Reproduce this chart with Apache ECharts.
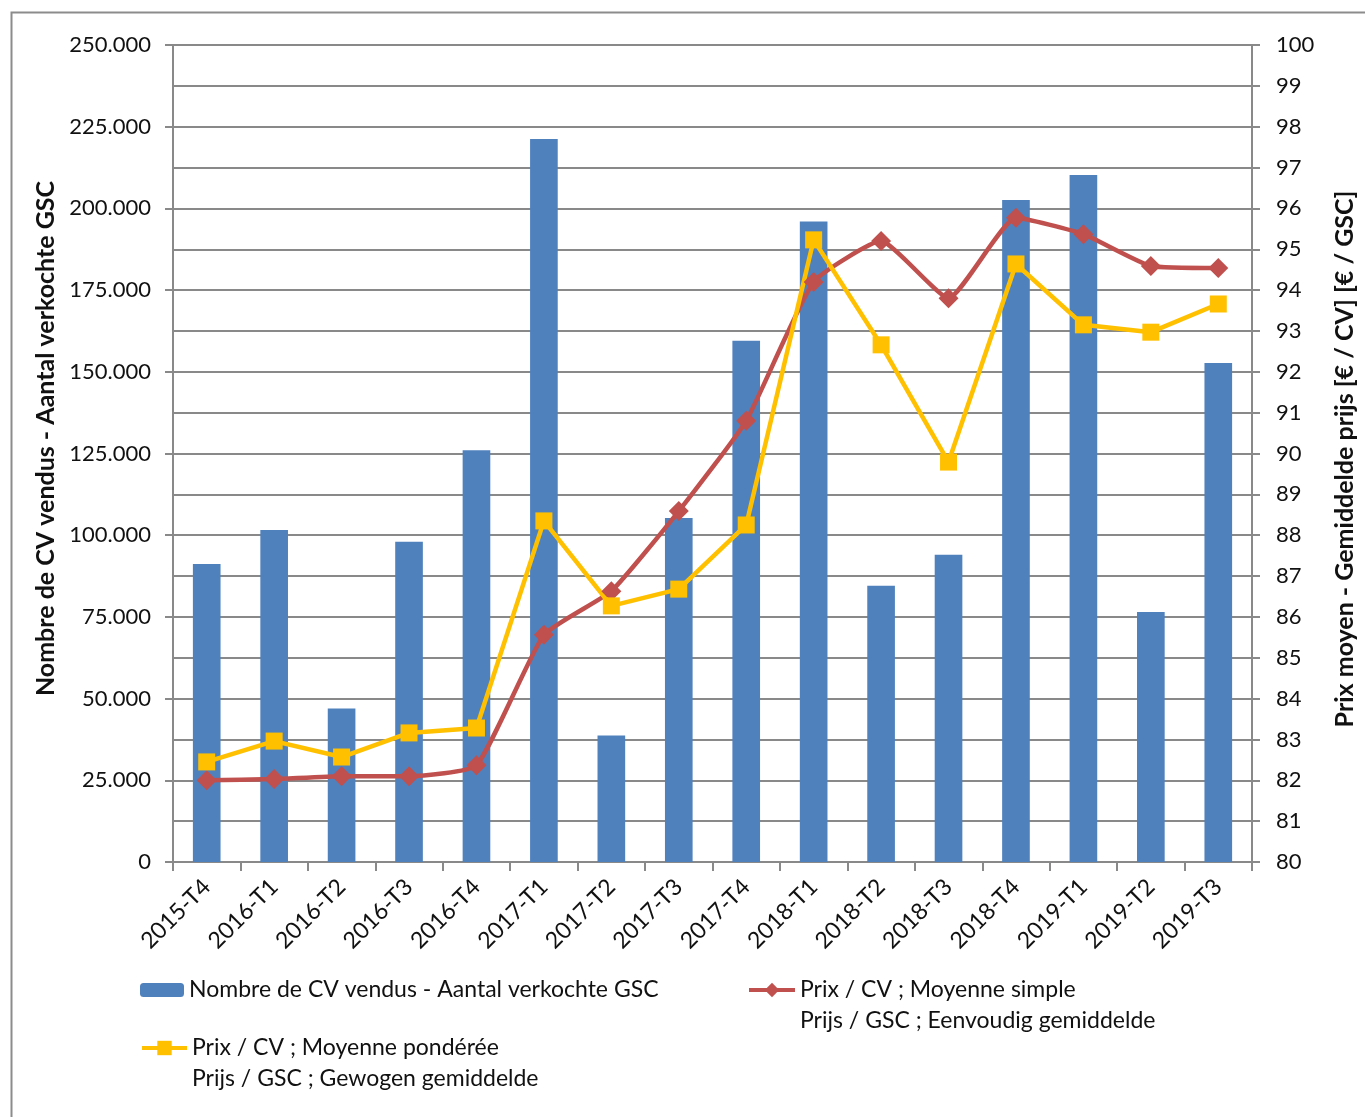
<!DOCTYPE html>
<html>
<head>
<meta charset="utf-8">
<script src="https://cdn.jsdelivr.net/npm/echarts@6/dist/echarts.min.js"></script>
<style>
html,body{margin:0;padding:0;background:#fff;}
#c{width:1365px;height:1117px;}
</style>
</head>
<body>
<div id="c"></div>
<script>
const categories = ['2015-T4','2016-T1','2016-T2','2016-T3','2016-T4','2017-T1','2017-T2','2017-T3','2017-T4','2018-T1','2018-T2','2018-T3','2018-T4','2019-T1','2019-T2','2019-T3'];
const soldCount = [91200,101600,47000,98000,126000,221200,38700,105300,159500,196000,84500,94000,202600,210200,76500,152700];
const simpleAvg = [82.0,82.03,82.1,82.1,82.37,85.56,86.63,88.59,90.8,94.2,95.2,93.8,95.77,95.37,94.59,94.54];
const weightedAvg = [82.45,82.96,82.57,83.16,83.28,88.35,86.27,86.68,88.25,95.23,92.66,89.79,94.64,93.15,92.97,93.66];

const nameBar = 'Nombre de CV vendus - Aantal verkochte GSC';
const nameSimple = 'Prix / CV ; Moyenne simple\nPrijs / GSC ; Eenvoudig gemiddelde';
const nameWeighted = 'Prix / CV ; Moyenne pondérée\nPrijs / GSC ; Gewogen gemiddelde';

const FONT = 'Lato';
const gray = '#898989';
const TXT = '#111111';
const LH = 31;

function fmtThousands(v){
  return String(Math.round(v)).replace(/\B(?=(\d{3})+(?!\d))/g, '.');
}

const chart = echarts.init(document.getElementById('c'));
const legendText = {fontFamily: FONT, fontSize: 23, color: TXT, lineHeight: LH};
const twoLine = function(n){ return '\n' + n; };
chart.setOption({
  animation: false,
  textStyle: {fontFamily: FONT},
  graphic: [{
    type: 'rect', left: 9, top: 10, shape: {width: 1400, height: 1200},
    style: {fill: 'none', stroke: '#8c8c8c', lineWidth: 2}, silent: true
  }],
  grid: {left: 173, right: 110, top: 45, bottom: 255},
  legend: [
    {left: 140, top: 974.5, padding: 0, itemWidth: 44, itemHeight: 14, itemGap: 0,
     data: [nameBar], textStyle: legendText},
    {left: 747, top: 943.5, padding: 0, itemWidth: 46, itemHeight: 18, itemGap: 0,
     data: [nameSimple], formatter: twoLine, textStyle: legendText, lineStyle: {width: 4}},
    {left: 140, top: 1001.5, padding: 0, itemWidth: 45, itemHeight: 18, itemGap: 0,
     data: [nameWeighted], formatter: twoLine, textStyle: legendText, lineStyle: {width: 4}}
  ],
  xAxis: {
    type: 'category', data: categories, boundaryGap: true,
    axisLine: {lineStyle: {color: gray, width: 2}},
    axisTick: {show: true, length: 9, lineStyle: {color: gray, width: 2}},
    axisLabel: {rotate: 45, fontFamily: FONT, fontSize: 23, color: TXT, margin: 21, interval: 0}
  },
  yAxis: [{
    type: 'value', min: 0, max: 250000, interval: 25000, position: 'left',
    name: 'Nombre de CV vendus - Aantal verkochte GSC', nameLocation: 'middle', nameRotate: 90, nameGap: 115,
    nameTextStyle: {fontFamily: FONT, fontSize: 25, fontWeight: 'bold', color: TXT, padding: [0,0,0,30]},
    axisLine: {show: true, lineStyle: {color: gray, width: 2}},
    axisTick: {show: true, length: 8, lineStyle: {color: gray, width: 2}},
    axisLabel: {fontFamily: FONT, fontSize: 22, color: TXT, margin: 22, formatter: fmtThousands},
    splitLine: {show: false}
  }, {
    type: 'value', min: 80, max: 100, interval: 1, position: 'right',
    name: 'Prix moyen - Gemiddelde prijs [€ / CV] [€ / GSC]', nameLocation: 'middle', nameRotate: 90, nameGap: 80,
    nameTextStyle: {fontFamily: FONT, fontSize: 25, fontWeight: 'bold', color: TXT, padding: [0,11,0,0]},
    axisLine: {show: true, lineStyle: {color: gray, width: 2}},
    axisTick: {show: true, length: 8, lineStyle: {color: gray, width: 2}},
    axisLabel: {fontFamily: FONT, fontSize: 22, color: TXT, margin: 24},
    splitLine: {show: true, lineStyle: {color: gray, width: 2}}
  }],
  series: [{
    name: nameBar, type: 'bar', data: soldCount, yAxisIndex: 0, barWidth: '41%',
    itemStyle: {color: '#4F81BD'}
  }, {
    name: nameSimple, type: 'line', data: simpleAvg, yAxisIndex: 1, smooth: 0.15,
    symbol: 'diamond', symbolSize: 20, lineStyle: {color: '#C0504D', width: 4.5},
    itemStyle: {color: '#C0504D'}
  }, {
    name: nameWeighted, type: 'line', data: weightedAvg, yAxisIndex: 1,
    symbol: 'rect', symbolSize: 17, lineStyle: {color: '#FFC000', width: 4.5},
    itemStyle: {color: '#FFC000'}
  }]
});
</script>
</body>
</html>
